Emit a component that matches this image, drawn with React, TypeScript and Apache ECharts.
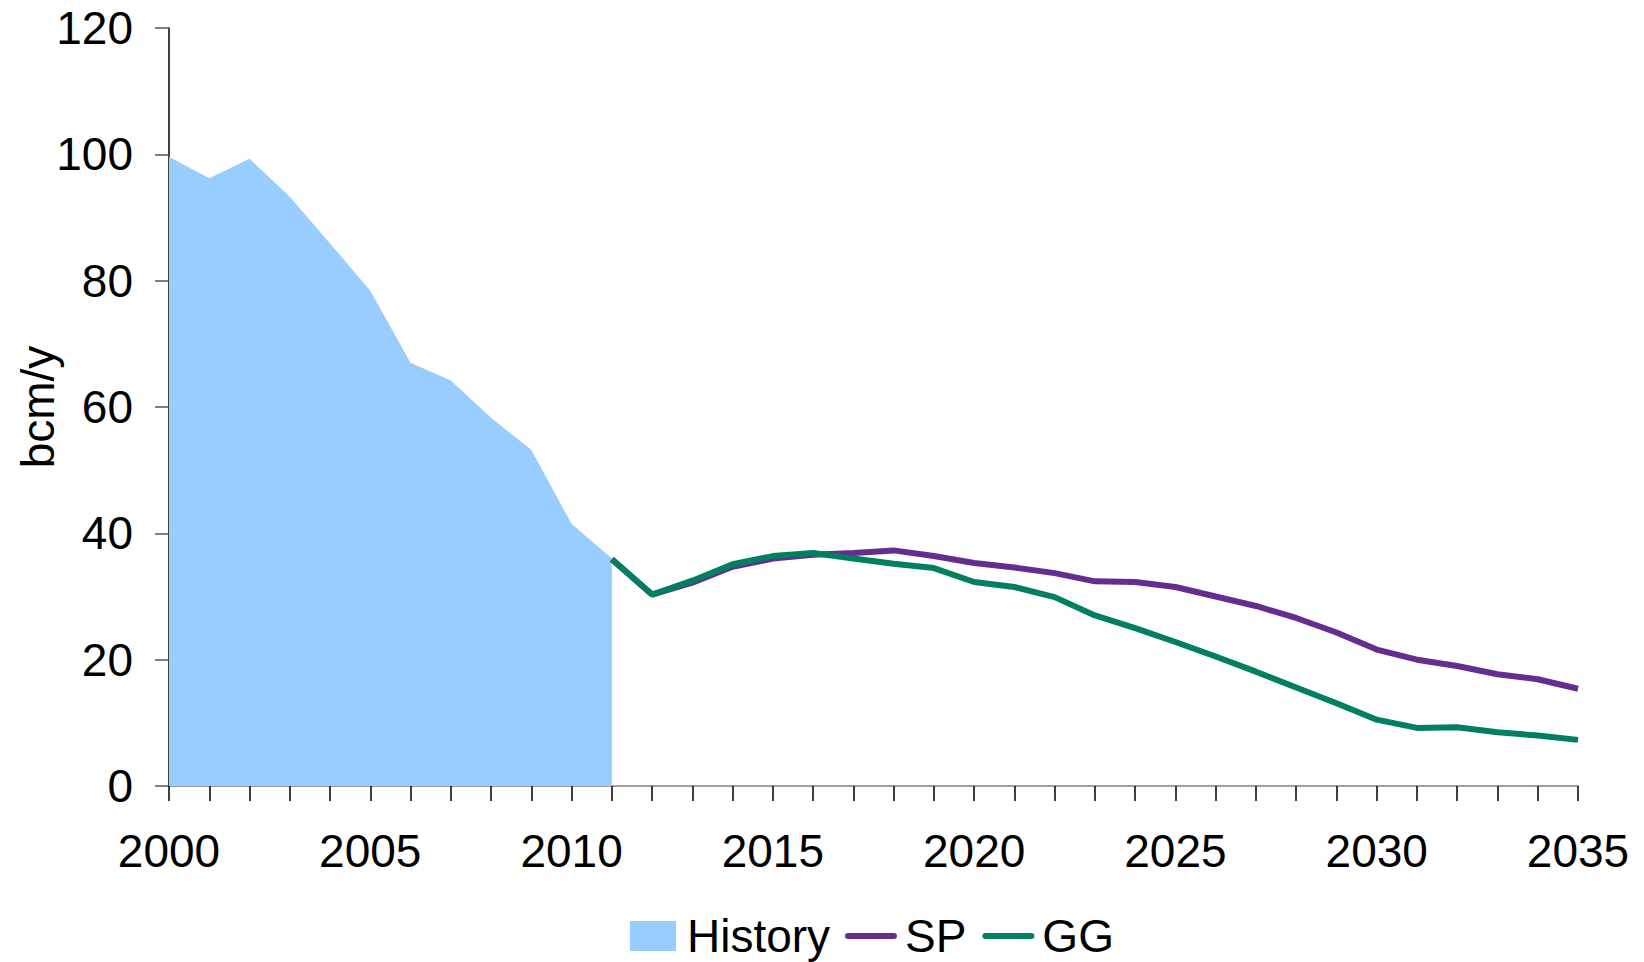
import React, { useEffect, useRef } from "react";
import * as echarts from "echarts";

const years: string[] = [];
for (let y = 2000; y <= 2035; y++) years.push(String(y));

const history = [99.6, 96.2, 99.3, 93.3, 85.9, 78.4, 67.0, 64.2, 58.3, 53.2, 41.5, 36.0];
const sp = [
  null, null, null, null, null, null, null, null, null, null, null,
  35.9, 30.3, 32.2, 34.7, 36.0, 36.6, 36.9, 37.3, 36.4, 35.3, 34.6, 33.7, 32.4, 32.3,
  31.5, 30.0, 28.5, 26.6, 24.3, 21.6, 20.0, 19.0, 17.7, 16.9, 15.4,
];
const gg = [
  null, null, null, null, null, null, null, null, null, null, null,
  35.9, 30.3, 32.5, 35.1, 36.4, 36.9, 36.0, 35.2, 34.5, 32.3, 31.5, 29.9, 27.0, 25.0,
  22.8, 20.5, 18.1, 15.6, 13.1, 10.5, 9.2, 9.3, 8.5, 8.0, 7.3,
];
const yTicks = { min: 0, max: 120, interval: 20 };

const FONT = "Liberation Sans, Arial, sans-serif";
const FS = 46;

export default function App() {
  const ref = useRef<HTMLDivElement>(null);
  useEffect(() => {
    const chart = echarts.init(ref.current!, undefined, { renderer: "svg" });
    chart.setOption({
      animation: false,
      backgroundColor: "#ffffff",
      textStyle: { fontFamily: FONT },
      grid: {
        left: 169,
        right: 66,
        top: 28,
        bottom: 176,
        containLabel: false,
        outerBoundsMode: "none",
      },
      xAxis: {
        type: "category",
        data: years,
        boundaryGap: false,
        axisLine: { lineStyle: { color: "#808080", width: 1.5 } },
        axisTick: { interval: 0, length: 15, lineStyle: { color: "#000", width: 1.5 } },
        axisLabel: { interval: 4, margin: 42, fontSize: FS, color: "#000", fontFamily: FONT },
        splitLine: { show: false },
      },
      yAxis: {
        type: "value",
        min: yTicks.min,
        max: yTicks.max,
        interval: yTicks.interval,
        name: "bcm/y",
        nameLocation: "middle",
        nameGap: 108,
        nameMoveOverlap: false,
        nameTextStyle: { fontSize: FS, color: "#000", fontFamily: FONT },
        axisLine: { show: true, lineStyle: { color: "#000", width: 1.5 } },
        axisTick: { show: true, length: 14, lineStyle: { color: "#555", width: 1.5 } },
        axisLabel: { margin: 36, fontSize: FS, color: "#000", fontFamily: FONT },
        splitLine: { show: false },
      },
      legend: [
        {
          data: ["History"],
          left: 630,
          top: 913,
          padding: 0,
          itemWidth: 46,
          itemHeight: 30,
          icon: "rect",
          textStyle: { fontSize: FS, color: "#000", fontFamily: FONT, padding: [0, 0, 0, 6] },
        },
        {
          data: ["SP", "GG"],
          left: 845,
          top: 913,
          padding: 0,
          itemWidth: 52,
          itemHeight: 6,
          itemGap: 16,
          icon: "path://M3,0 L49,0 A3,3 0 0 1 49,6 L3,6 A3,3 0 0 1 3,0 Z",
          textStyle: { fontSize: FS, color: "#000", fontFamily: FONT, padding: [0, 0, 0, 3] },
        },
      ],
      series: [
        {
          name: "History",
          type: "line",
          data: history,
          symbol: "none",
          lineStyle: { width: 0, color: "#99CCFF" },
          itemStyle: { color: "#99CCFF" },
          areaStyle: { color: "#99CCFF", opacity: 1 },
          z: 1,
        },
        {
          name: "SP",
          type: "line",
          data: sp,
          symbol: "none",
          lineStyle: { width: 6, color: "#662D91" },
          itemStyle: { color: "#662D91" },
          z: 2,
        },
        {
          name: "GG",
          type: "line",
          data: gg,
          symbol: "none",
          lineStyle: { width: 6, color: "#008060" },
          itemStyle: { color: "#008060" },
          z: 3,
        },
      ],
    });
    return () => chart.dispose();
  }, []);
  return <div ref={ref} style={{ width: 1644, height: 962, position: "absolute", left: 0, top: 0 }} />;
}
